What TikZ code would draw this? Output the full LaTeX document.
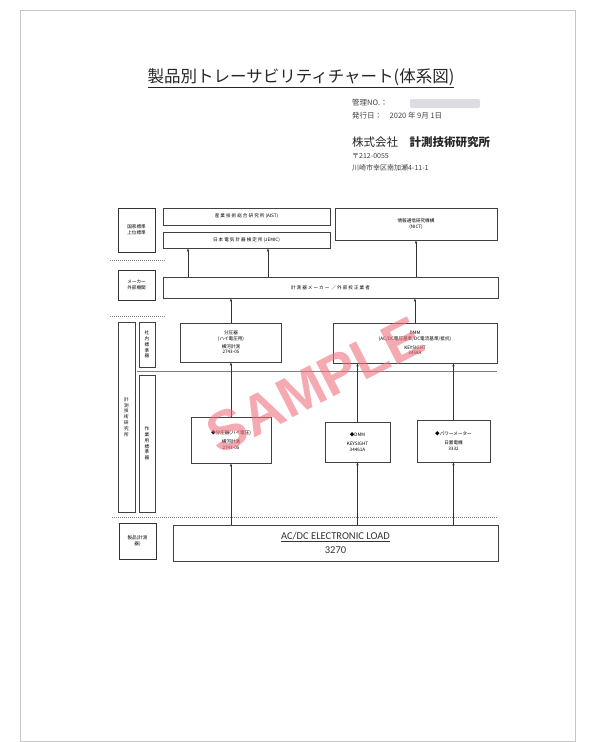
\documentclass[tikz,border=0pt]{standalone}
\usepackage{fontspec}
\setmainfont{Noto Sans CJK JP}
\newfontfamily\loadfont{Carlito}
\newfontfamily\markfont{Liberation Sans}
\usepackage{tikz}
\usetikzlibrary{positioning, arrows.meta}
\definecolor{stampred}{RGB}{238,112,124}
\tikzset{
  box/.style={draw=black!75, line width=0.6pt, inner sep=0pt, align=center, font=\fontsize{4.6}{5.8}\selectfont},
  sidebox/.style={box, draw=black!80, line width=0.9pt},
  arr/.style={-{Latex[length=3pt,width=2.4pt]}, line width=0.5pt, black!80},
  sep/.style={gray, line width=0.8pt, dash pattern=on 1.2pt off 0.8pt},
  info/.style={anchor=west, inner sep=0pt, font=\fontsize{7.5}{9}\selectfont, text=black!75},
}

\begin{document}
\begin{tikzpicture}[x=1pt, y=-1pt]
    \useasboundingbox (0,0) rectangle (594,742);
    % page edge
    \draw[gray!45, line width=0.5pt] (20,10) rectangle (575,741);

    % Title and header
    \node[inner sep=0pt, font=\fontsize{16.5}{18}\selectfont, text=black!85] (title) at (301,78) {\underline{製品別トレーサビリティチャート(体系図)}};
    \node[info] (mgmt) at (352,103) {管理NO.：};
    \fill[blue!10!gray!25, rounded corners=2pt] (410,99) rectangle (480,108);
    \node[info] (date) at (352,116) {発行日：\quad 2020 年\ 9月\ 1日};
    \node[info, font=\fontsize{11.5}{13}\selectfont, text=black!85] (corp) at (352,142) {株式会社\quad\textbf{計測技術研究所}};
    \node[info, font=\fontsize{7}{8}\selectfont] (zip) at (352,156) {〒212-0055};
    \node[info, font=\fontsize{7}{8}\selectfont] (addr) at (352,168) {川崎市幸区南加瀬4-11-1};

    % Left column
    \node[sidebox, minimum width=37pt, minimum height=44pt] (natl) at (136.5,230) {国家標準\\上位標準};
    \node[sidebox, minimum width=37pt, minimum height=30pt] (extl) at (136.5,285) {メーカー\\外部機関};
    \node[box, minimum width=17pt, minimum height=190pt] (lab) at (126.5,417) {計\\測\\技\\術\\研\\究\\所};
    \node[box, minimum width=16pt, minimum height=45pt] (refl) at (147,344.5) {社\\内\\標\\準\\器};
    \node[box, minimum width=16pt, minimum height=137pt] (workl) at (147,443.5) {作\\業\\用\\標\\準\\器};
    \node[sidebox, minimum width=37pt, minimum height=36pt] (prodl) at (137.5,541) {製品(計測\\器)};

    % Upper level
    \node[box, minimum width=167pt, minimum height=17pt] (aist) at (246.5,216.5) {産 業 技 術 総 合 研 究 所 (AIST)};
    \node[box, minimum width=167pt, minimum height=16pt] (jemic) at (246.5,240) {日 本 電 気 計 器 検 定 所 (JEMIC)};
    \node[box, minimum width=162pt, minimum height=32pt] (nict) at (416,224) {情報通信研究機構\\(NICT)};
    \node[box, minimum width=335pt, minimum height=21pt] (calib) at (330.5,287.5) {計 測 器 メ ー カ ー \ ／\ 外 部 校 正 業 者};

    % Standards
    \node[box, minimum width=101pt, minimum height=39pt] (div) at (231,342.5) {分圧器\\(ハイ電圧用)\\[1.5pt]横河計測\\2743-05};
    \node[box, minimum width=164pt, minimum height=40pt] (dmmref) at (415,343) {DMM\\(AC/DC電圧基準/DC電流基準/抵抗)\\[3pt]KEYSIGHT\\3458A};
    \node[box, minimum width=80pt, minimum height=46pt] (divw) at (231,440) {◆分圧器(ハイ電圧)\\[4pt]横河計測\\2743-05};
    \node[box, minimum width=65pt, minimum height=40pt] (dmmw) at (357.5,442) {◆DMM\\[4pt]KEYSIGHT\\34461A};
    \node[box, minimum width=73pt, minimum height=42pt] (pwm) at (453.5,441) {◆パワーメーター\\[4pt]日置電機\\3332};

    % Product
    \node[box, minimum width=325pt, minimum height=36pt, font=\loadfont\fontsize{10.5}{14}\selectfont, text=black!80] (load) at (335.5,543) {\underline{AC/DC ELECTRONIC LOAD}\\3270};

    % Separators
    \coordinate (s1a) at (110,260);
    \coordinate (s1b) at (165,260);
    \coordinate (s2a) at (110,316);
    \coordinate (s2b) at (165,316);
    \coordinate (s3a) at (112,517);
    \coordinate (s3b) at (497,517);
    \coordinate (h1a) at (137,371);
    \coordinate (h1b) at (497,371);
    \draw[sep] (s1a) -- (s1b);
    \draw[sep] (s2a) -- (s2b);
    \draw[sep] (s3a) -- (s3b);
    \draw[gray, line width=0.5pt] (h1a) -- (h1b);

    % Traceability links
    \coordinate (j1) at (188,0);
    \coordinate (j2) at (268,0);
    \draw[arr] (calib.north -| j1) -- (jemic.south -| j1);
    \draw[arr] (calib.north -| j2) -- (jemic.south -| j2);
    \draw[arr] (calib.north -| nict.south) -- (nict.south);
    \draw[arr] (div.north) -- (div.north |- calib.south);
    \draw[arr] (dmmref.north) -- (dmmref.north |- calib.south);
    \draw[arr] (divw.north) -- (div.south);
    \draw[arr] (dmmw.north) -- (dmmw.north |- dmmref.south);
    \draw[arr] (pwm.north) -- (pwm.north |- dmmref.south);
    \draw[arr] (load.north -| divw.south) -- (divw.south);
    \draw[arr] (load.north -| dmmw.south) -- (dmmw.south);
    \draw[arr] (load.north -| pwm.south) -- (pwm.south);

    % Watermark
    \node[rotate=27, text=stampred, opacity=0.6, inner sep=0pt, font=\markfont\bfseries\fontsize{56}{56}\selectfont] (stamp) at (315,385) {SAMPLE};
\end{tikzpicture}
\end{document}
